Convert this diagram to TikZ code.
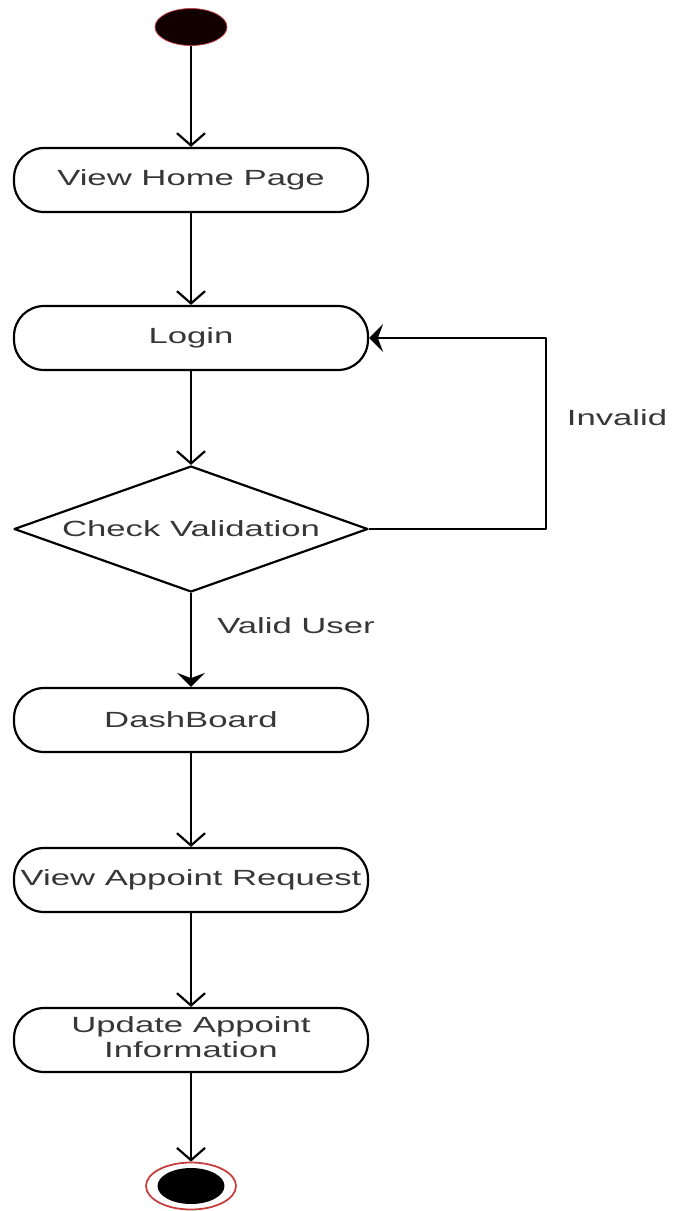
\documentclass[tikz,border=0pt]{standalone}
\usepackage{fontspec}
\setmainfont{Liberation Sans}
\usepackage{graphicx}
\usetikzlibrary{shapes.geometric,arrows.meta}
\definecolor{txtgray}{RGB}{55,55,55}
\definecolor{darkdot}{RGB}{18,0,0}
\definecolor{ringred}{RGB}{200,60,60}
\newcommand{\wtext}[1]{\scalebox{1.58}[1]{#1}}
\begin{document}
\begin{tikzpicture}[x=0.02cm, y=-0.02cm, line width=1.25pt, line join=round,
  font=\fontsize{12.5}{14}\selectfont, text=txtgray,
  act/.style={draw, rounded corners=0.6cm, minimum width=7.08cm, minimum height=1.28cm, inner sep=0pt},
  dec/.style={draw, diamond, aspect=2.8, minimum width=7.08cm, minimum height=2.52cm, inner sep=0pt},
  open/.style={-{Straight Barb[length=7pt,width=16pt]}},
  fillarr/.style={-{Stealth[length=8pt,width=16pt,inset=3pt]}}]
 \useasboundingbox (0,0) rectangle (674,1211);
 \node[ellipse, fill=darkdot, draw=ringred, line width=0.4pt, minimum width=1.44cm, minimum height=0.74cm, inner sep=0pt] (start) at (191,27) {};
 \node[act] (home) at (191,180) {\wtext{View Home Page}};
 \node[act] (login) at (191,338) {\wtext{Login}};
 \node[dec] (check) at (191,529) {\wtext{Check Validation}};
 \node[act] (dash) at (191,720) {\wtext{DashBoard}};
 \node[act] (req) at (191,880) {\wtext{View Appoint Request}};
 \node[act] (upd) at (191,1040) {\wtext{\begin{tabular}{@{}c@{}}Update Appoint\\Information\end{tabular}}};
 \node[ellipse, draw=ringred, line width=1pt, minimum width=1.8cm, minimum height=0.94cm, inner sep=0pt] (stop) at (191,1186) {};
 \node[ellipse, fill=black, minimum width=1.34cm, minimum height=0.72cm, inner sep=0pt] (stopdot) at (stop) {};
 \node (validlbl) at (296,626) {\wtext{Valid User}};
 \node (invlbl) at (617,418) {\wtext{Invalid}};
 \foreach \a/\b in {start/home, home/login, login/check, dash/req, req/upd, upd/stop}{
 \draw[open] (\a) -- (\b);}
 \draw[fillarr] (check) -- (dash);
 \draw[fillarr] (check.east) -- ++(177,0) |- (login.east);
\end{tikzpicture}
\end{document}
